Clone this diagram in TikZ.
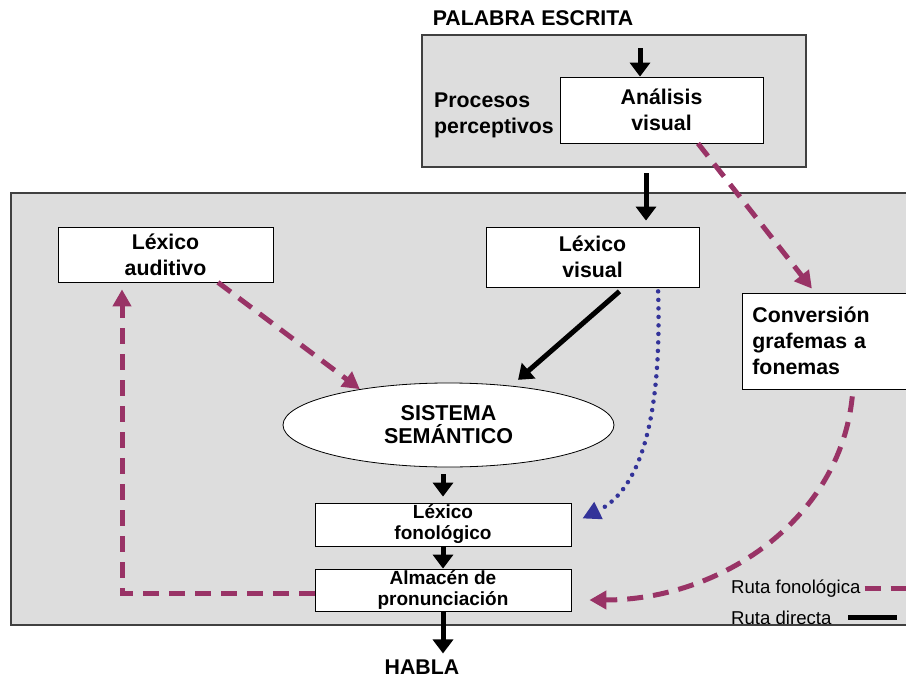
\documentclass[tikz,border=0pt]{standalone}
\usepackage{fontspec}
\setmainfont{Liberation Sans}
\usetikzlibrary{arrows.meta,shapes.geometric}
\definecolor{fonpurple}{HTML}{993366}
\definecolor{lexblue}{HTML}{333399}
\definecolor{panelgray}{HTML}{DDDDDD}

\begin{document}
\begin{tikzpicture}[x=1pt, y=-1pt,
    procbox/.style={draw, rectangle, fill=white, line width=0.8pt, inner sep=0pt, align=center, font=\bfseries\fontsize{21.3}{26}\selectfont},
    smallbox/.style={procbox, font=\bfseries\fontsize{19}{21}\selectfont},
    panel/.style={draw=black!75, fill=panelgray, line width=1.2pt},
    heading/.style={inner sep=0pt, font=\bfseries\fontsize{21.3}{26}\selectfont},
    legendtext/.style={inner sep=0pt, font=\fontsize{18.6}{22}\selectfont},
    direct/.style={line width=5pt, -{Triangle[length=14pt,width=20pt]}},
    fonline/.style={draw=fonpurple, line width=5pt, dash pattern=on 16pt off 10pt},
    fonroute/.style={fonline, -{Triangle[length=17pt,width=18pt]}},
    lexroute/.style={draw=lexblue, line width=4.5pt, line cap=round, dash pattern=on 0pt off 8.5pt, -{Triangle[length=18pt,width=18pt]}}]
    \useasboundingbox (0,0) rectangle (906,680);
    \clip (0,0) rectangle (906,680);

    % Panels
    \draw[panel] (11,193) rectangle (920,625);
    \draw[panel] (422,35) rectangle (806,167);

    % Nodes
    \node[heading] (palabra) at (533,18) {PALABRA ESCRITA};
    \node[heading, align=left, anchor=west] (procesos) at (434,115) {Procesos\\perceptivos};
    \node[procbox, minimum width=203pt, minimum height=66pt] (analisis) at (661.5,110) {Análisis\\visual};
    \node[procbox, minimum width=215pt, minimum height=55pt] (auditivo) at (165.5,254.5) {Léxico\\auditivo};
    \node[procbox, minimum width=213pt, minimum height=60pt] (visual) at (592.5,257) {Léxico\\visual};
    \node[procbox, anchor=west, align=left, text width=160pt, inner xsep=10pt, minimum height=96pt] (conversion) at (742,341) {Conversión\\grafemas a\\fonemas};
    \node[ellipse, draw, fill=white, line width=0.8pt, minimum width=331pt, minimum height=84pt, inner sep=0pt, align=center, font=\bfseries\fontsize{21.5}{23}\selectfont] (semantico) at (448.5,425) {SISTEMA\\SEMÁNTICO};
    \node[smallbox, minimum width=256pt, minimum height=43pt] (fonologico) at (443,524.5) {Léxico\\fonológico};
    \node[smallbox, minimum width=256pt, minimum height=42pt] (almacen) at (443,590) {Almacén de\\pronunciación};
    \node[heading] (habla) at (422,667) {HABLA};

    % Legend
    \node[legendtext, anchor=base west] (rutafon) at (731,593) {Ruta fonológica};
    \node[legendtext, anchor=base west] (rutadir) at (731,624) {Ruta directa};
    \coordinate (fonend) at (912,586);
    \coordinate (dirend) at (897,617);
    \draw[fonline] ([xshift=4pt]rutafon.east) -- (rutafon.east -| fonend);
    \draw[line width=5pt] (848,0 |- dirend) -- (dirend);

    % Connections
    \coordinate (entrada) at (640,48);
    \coordinate (salida) at (646,173);
    \draw[direct] (entrada) -- (entrada |- analisis.north);
    \draw[direct, shorten >=6pt] (salida) -- (salida |- visual.north);
    \draw[direct, shorten <=6pt, shorten >=9pt] ([xshift=31.5pt]visual.south) -- (semantico.32);
    \draw[direct, shorten <=7pt, shorten >=6pt] (semantico.south -| fonologico.north) -- (fonologico.north);
    \draw[direct] (fonologico) -- (almacen);
    \draw[direct, shorten >=6pt] (almacen.south) -- (almacen.south |- habla.north);

    \draw[fonroute] ([xshift=52.5pt]auditivo.south) -- (semantico.158);
    \draw[fonroute, shorten >=5pt] ([xshift=36.5pt]analisis.south) -- ([xshift=73pt]conversion.north west);
    \draw[fonroute, shorten <=7pt] ([xshift=111pt]conversion.south west) .. controls (840,520) and (720,600) .. ([xshift=18pt,yshift=-10pt]almacen.east);
    \draw[fonroute, shorten >=7pt] ([yshift=-3pt]almacen.west) -| ([xshift=-43.5pt]auditivo.south);

    \draw[lexroute, shorten <=4pt] ([xshift=65.5pt]visual.south) .. controls (662,420) and (640,490) .. ([xshift=11pt,yshift=6pt]fonologico.east);
\end{tikzpicture}
\end{document}
